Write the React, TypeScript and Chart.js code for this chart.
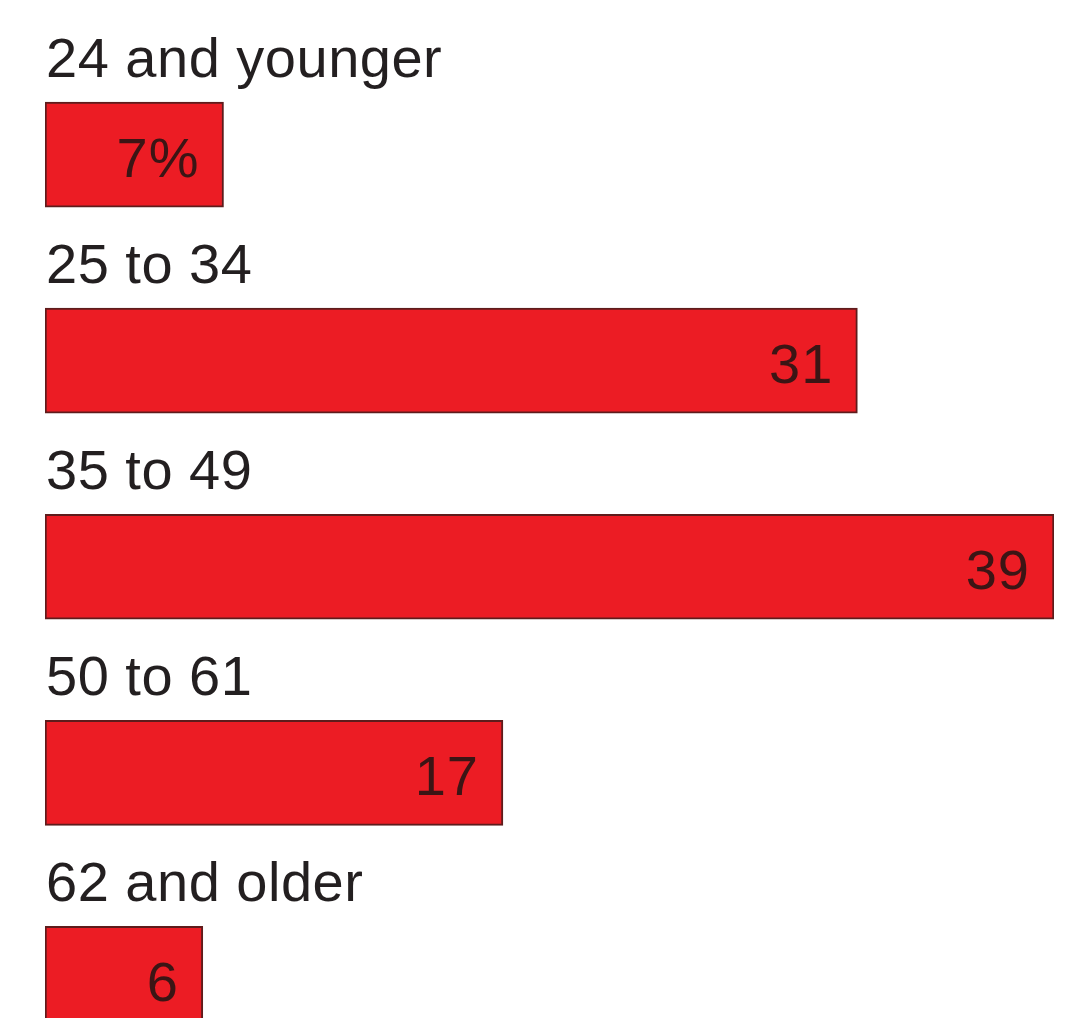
import React, { useEffect, useRef } from "react";
import { Chart, registerables } from "chart.js";

Chart.register(...registerables);

const categories = ["24 and younger", "25 to 34", "35 to 49", "50 to 61", "62 and older"];
// bar lengths (printed labels are rounded)
const values = [6.9, 31.4, 39, 17.7, 6.1];
const valueLabels = ["7%", "31", "39", "17", "6"];

const labelPlugin = {
  id: "barLabels",
  afterDatasetsDraw(chart: any) {
    const ctx = chart.ctx;
    const meta = chart.getDatasetMeta(0);
    ctx.save();
    meta.data.forEach((bar: any, i: number) => {
      const { x, y, base, height } = bar.getProps(["x", "y", "base", "height"], true);
      ctx.font = "56px 'Liberation Sans', Arial, sans-serif";
      (ctx as any).letterSpacing = "0.5px";
      ctx.fillStyle = "#231f20";
      ctx.textAlign = "left";
      ctx.textBaseline = "alphabetic";
      ctx.fillText(categories[i], base + 1, y - height / 2 - 25);
      ctx.font = "56px 'Liberation Sans', Arial, sans-serif";
      (ctx as any).letterSpacing = "1px";
      ctx.fillStyle = "#3b1515";
      ctx.textAlign = "right";
      ctx.fillText(valueLabels[i], x - 24, y + 22);
    });
    ctx.restore();
  },
};

export default function App() {
  const ref = useRef<HTMLCanvasElement>(null);
  useEffect(() => {
    document.body.style.margin = "0";
    const canvas = ref.current!;
    const chart = new Chart(canvas, {
      type: "bar",
      data: {
        labels: categories,
        datasets: [
          {
            data: values,
            backgroundColor: "#ec1c24",
            borderColor: "#5e1c1c",
            borderWidth: 2,
            borderSkipped: false,
            barThickness: 105,
          },
        ],
      },
      options: {
        indexAxis: "y",
        responsive: false,
        animation: false,
        layout: { padding: { left: 45, right: 23, top: 51.5, bottom: 0 } },
        scales: {
          x: { display: false, min: 0, max: 39 },
          y: { display: false },
        },
        plugins: {
          legend: { display: false },
          tooltip: { enabled: false },
        },
      },
      plugins: [labelPlugin],
    });
    return () => chart.destroy();
  }, []);
  return (
    <div style={{ position: "fixed", left: 0, top: 0, width: 1077, height: 1018, overflow: "hidden", background: "#fff" }}>
      <canvas ref={ref} width={1077} height={1082} style={{ display: "block", width: 1077, height: 1082 }} />
    </div>
  );
}
